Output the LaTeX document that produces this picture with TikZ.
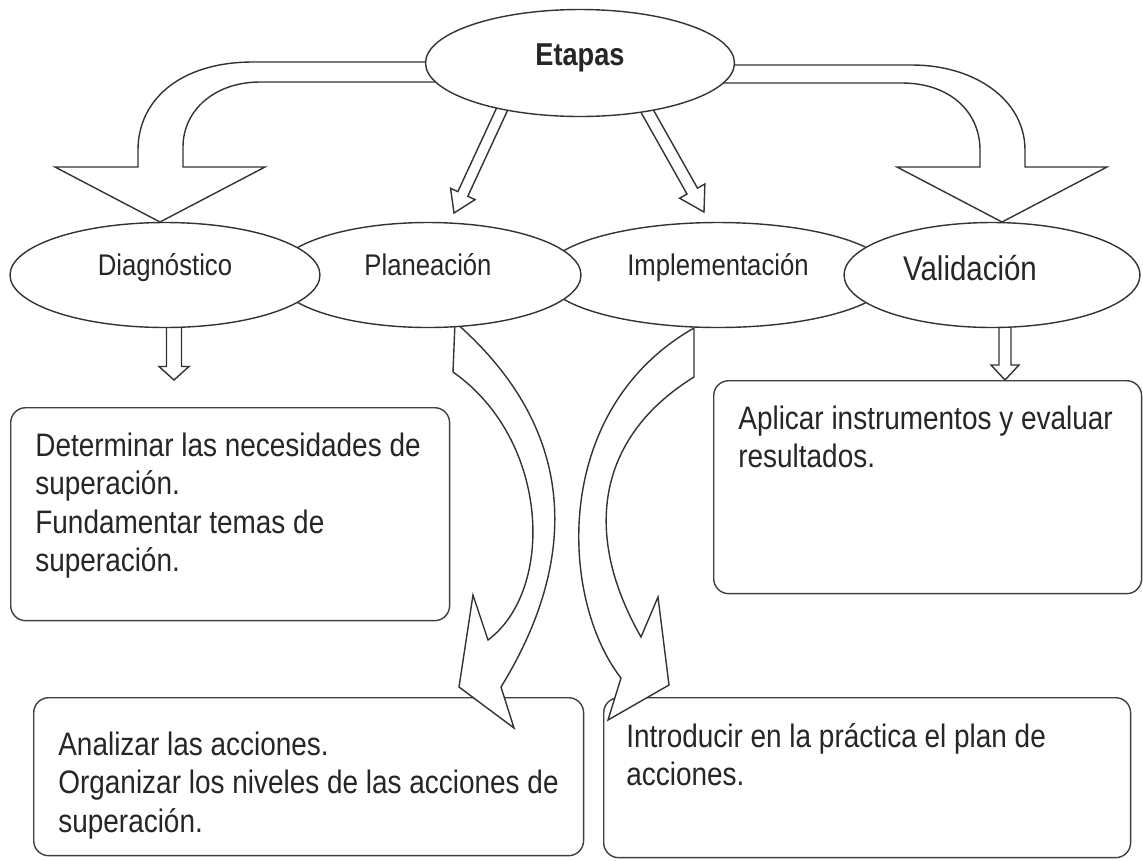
\documentclass[tikz,border=0pt]{standalone}
\usepackage{fontspec}
\setmainfont{Liberation Sans}[FakeStretch=0.86]
\usetikzlibrary{calc,shapes.geometric}

\tikzset{
  etapa/.style={ellipse, draw=black!80, line width=0.8pt, fill=white, inner sep=0pt,
    minimum height=2.1cm, text height=0.75em, text depth=0.65em, text=black!85,
    font=\fontsize{17}{20}\selectfont},
  caja/.style={draw=black!75, line width=0.8pt, rounded corners=0.3cm, fill=white,
    anchor=north west},
  texto/.style={anchor=base west, inner sep=0pt, align=flush left, text=black!85,
    font=\fontsize{18.5}{22}\selectfont},
  flecha/.style={draw=black!80, line width=0.8pt, fill=white, line join=miter},
}

% block arrow: start, tip, half shaft, half head, head length
\newcommand{\bloque}[5]{%
  \path ($(#2)!#5!(#1)$) coordinate (hb);
  \draw[flecha] ($(#1)!#3!90:(#2)$) -- ($(hb)!#3!90:(#2)$) -- ($(hb)!#4!90:(#2)$) -- (#2)
    -- ($(hb)!#4!-90:(#2)$) -- ($(hb)!#3!-90:(#2)$) -- ($(#1)!#3!-90:(#2)$) -- cycle;
}

\begin{document}
\begin{tikzpicture}[x=0.02cm, y=-0.02cm]
\useasboundingbox (0,0) rectangle (1143,860);

% cajas
\node[caja, minimum width=8.78cm, minimum height=4.26cm] (cdiag) at (10,407) {};
\node[caja, minimum width=11cm, minimum height=3.16cm] (cplan) at (33,697) {};
\node[caja, minimum width=8.56cm, minimum height=4.26cm] (cval) at (713,380) {};
\node[caja, minimum width=10.54cm, minimum height=3.2cm] (cimpl) at (603,697) {};
\node[texto, text width=8cm] (tdiag) at (35,456) {Determinar las necesidades de\\superación.\\Fundamentar temas de\\superación.};
\node[texto, text width=10.4cm] (tplan) at (58,755) {Analizar las acciones.\\Organizar los niveles de las acciones de\\superación.};
\node[texto, text width=8cm] (tval) at (738,429) {Aplicar instrumentos y evaluar\\resultados.};
\node[texto, text width=10cm] (timpl) at (626,747) {Introducir en la práctica el plan de\\acciones.};

% flechas grandes
\draw[flecha] (445,62) -- (253,62) .. controls (180,62) and (138,100) .. (138,150) -- (138,167)
  -- (55,167) -- (160,222) -- (265,167) -- (183,167) -- (183,147)
  .. controls (183,110) and (215,82) .. (260,82) -- (445,82) -- cycle;
\draw[flecha] (715,65) -- (912,65) .. controls (975,65) and (1025,100) .. (1025,150) -- (1025,167)
  -- (1107,167) -- (1002,222) -- (897,167) -- (980,167) -- (980,150)
  .. controls (980,112) and (950,83) .. (902,83) -- (715,83) -- cycle;

% flechas rectas
\coordinate (s1) at (504,105); \coordinate (t1) at (454,213);
\bloque{s1}{t1}{0.11cm}{0.27cm}{0.42cm}
\coordinate (s2) at (646,109); \coordinate (t2) at (704,212);
\bloque{s2}{t2}{0.12cm}{0.29cm}{0.48cm}
\coordinate (s3) at (174,320); \coordinate (t3) at (174,380);
\bloque{s3}{t3}{0.15cm}{0.3cm}{0.27cm}
\coordinate (s4) at (1005,320); \coordinate (t4) at (1005,380);
\bloque{s4}{t4}{0.12cm}{0.28cm}{0.3cm}

% flechas curvas
\draw[flecha] (455,322) .. controls (590,440) and (570,575) .. (501,687) -- (514,728) -- (459,687)
  -- (473,595) -- (488,640) .. controls (555,590) and (550,440) .. (453,372) -- cycle;
\draw[flecha] (694,328) .. controls (550,410) and (560,600) .. (621,678) -- (608,720) -- (669,685)
  -- (658,597) -- (641,637) .. controls (580,530) and (600,435) .. (694,377) -- cycle;

% etapas
\node[etapa, minimum width=6.96cm] (impl) at (718,275) {Implementación};
\node[etapa, minimum width=6.12cm] (plan) at (428,275) {Planeación};
\node[etapa, minimum width=6.2cm] (diag) at (165,275) {Diagnóstico};
\node[etapa, minimum width=5.92cm] (val) at (992,275) {};
\node[text=black!85, font=\fontsize{19.5}{22}\selectfont] (valtxt) at (970,268) {Validación};
\node[etapa, minimum width=6.18cm, minimum height=2.14cm, text depth=0.45em,
  font=\bfseries\fontsize{18}{20}\selectfont] (etapas) at (580,63) {Etapas};
\end{tikzpicture}
\end{document}
